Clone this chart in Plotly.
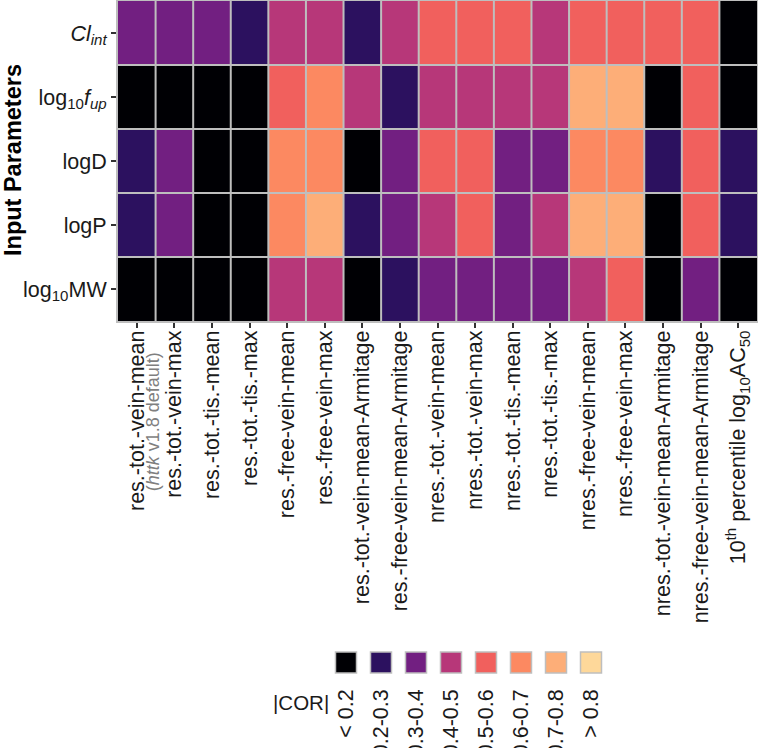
import plotly.graph_objects as go

# rows (top to bottom) and columns of the correlation grid
params = [
    "<i>Cl</i><sub><i>int</i></sub>",
    "log<sub>10</sub><i>f</i><sub><i>up</i></sub>",
    "logD",
    "logP",
    "log<sub>10</sub>MW",
]
metrics = [
    "res.-tot.-vein-mean",
    "res.-tot.-vein-max",
    "res.-tot.-tis.-mean",
    "res.-tot.-tis.-max",
    "res.-free-vein-mean",
    "res.-free-vein-max",
    "res.-tot.-vein-mean-Armitage",
    "res.-free-vein-mean-Armitage",
    "nres.-tot.-vein-mean",
    "nres.-tot.-vein-max",
    "nres.-tot.-tis.-mean",
    "nres.-tot.-tis.-max",
    "nres.-free-vein-mean",
    "nres.-free-vein-max",
    "nres.-tot.-vein-mean-Armitage",
    "nres.-free-vein-mean-Armitage",
    "10<sup>th</sup> percentile log<sub>10</sub>AC<sub>50</sub>",
]

# |COR| bins
bins = ["&lt; 0.2", "0.2-0.3", "0.3-0.4", "0.4-0.5", "0.5-0.6", "0.6-0.7", "0.7-0.8", "&gt; 0.8"]
bin_colors = ["#000004", "#2c115f", "#721f81", "#b73779", "#f1605d", "#fc8961", "#fdae78", "#fed89a"]

# bin index of |COR| for each parameter across the metrics
cl_int = [2, 2, 2, 1, 3, 3, 1, 3, 4, 4, 4, 3, 4, 4, 4, 4, 0]
log_fup = [0, 0, 0, 0, 4, 5, 3, 1, 3, 3, 3, 3, 6, 6, 0, 4, 0]
log_d = [1, 2, 0, 0, 5, 5, 0, 2, 4, 4, 2, 2, 5, 5, 1, 4, 1]
log_p = [1, 2, 0, 0, 5, 6, 1, 2, 3, 4, 2, 3, 6, 6, 0, 4, 1]
log_mw = [0, 0, 0, 0, 3, 3, 0, 1, 2, 2, 2, 2, 3, 4, 0, 2, 0]

z = [cl_int, log_fup, log_d, log_p, log_mw]

n = len(bin_colors)
cscale = []
for i, c in enumerate(bin_colors):
    cscale.append([i / n, c])
    cscale.append([(i + 1) / n, c])

W, H = 758, 748
ml, mr, mt, mb = 118, 1, 1, 8
pw, ph = W - ml - mr, H - mt - mb


def py(pix):
    # pixel row -> paper y
    return (H - mb - pix) / ph


def px(pix):
    return (pix - ml) / pw


grid = "#bebebe"
font = "Liberation Sans, Arial, sans-serif"
fs = 21.5

fig = go.Figure()
fig.add_trace(go.Heatmap(
    z=z, x=list(range(len(metrics))), y=list(range(len(params))),
    colorscale=cscale, zmin=-0.5, zmax=n - 0.5, showscale=False,
    hoverinfo="skip",
))

# cell borders
for i in range(1, len(metrics)):
    fig.add_shape(type="line", xref="x", yref="y", x0=i - 0.5, x1=i - 0.5,
                  y0=-0.5, y1=len(params) - 0.5, line=dict(color=grid, width=2))
for j in range(1, len(params)):
    fig.add_shape(type="line", xref="x", yref="y", x0=-0.5, x1=len(metrics) - 0.5,
                  y0=j - 0.5, y1=j - 0.5, line=dict(color=grid, width=2))

# legend swatches drawn on their own axes
fig.add_trace(go.Scatter(
    x=list(range(n)), y=[0] * n, mode="markers",
    marker=dict(symbol="square", size=21, color=bin_colors,
                line=dict(color=grid, width=1.5)),
    xaxis="x2", yaxis="y2", showlegend=False, hoverinfo="skip",
))

fig.update_layout(
    width=W, height=H,
    margin=dict(l=ml, r=mr, t=mt, b=mb),
    paper_bgcolor="white", plot_bgcolor="white",
    font=dict(family=font, size=fs, color="#1a1a1a"),
    showlegend=False,
    xaxis=dict(
        domain=[0, 1], anchor="y", range=[-0.5, len(metrics) - 0.5],
        tickvals=list(range(len(metrics))), ticktext=metrics, tickangle=-90,
        ticks="outside", ticklen=5, tickwidth=1.5, tickcolor="#333333",
        ticklabelstandoff=-6,
        showgrid=False, zeroline=False, showline=True, mirror=True,
        linecolor=grid, linewidth=2, automargin=False,
        tickfont=dict(size=fs, color="#1a1a1a"),
    ),
    yaxis=dict(
        domain=[py(321), 1], anchor="x", range=[len(params) - 0.5, -0.5],
        tickvals=list(range(len(params))), ticktext=params,
        ticks="outside", ticklen=5, tickwidth=1.5, tickcolor="#333333",
        showgrid=False, zeroline=False, showline=True, mirror=True,
        linecolor=grid, linewidth=2, automargin=False,
        tickfont=dict(size=fs, color="#1a1a1a"),
    ),
    xaxis2=dict(
        domain=[px(346 - 17.5), px(346 + 17.5 + 35 * (n - 1))], anchor="y2",
        range=[-0.5, n - 0.5], tickvals=list(range(n)), ticktext=bins,
        tickangle=-90, ticks="", ticklabelstandoff=10, automargin=False,
        showgrid=False, zeroline=False, showline=False,
        tickfont=dict(size=fs, color="#1a1a1a"),
    ),
    yaxis2=dict(
        domain=[py(674), py(651)], anchor="x2", range=[-0.5, 0.5],
        visible=False,
    ),
)

fig.add_annotation(
    text="<b>Input Parameters</b>", textangle=-90,
    xref="paper", yref="paper", x=px(13), y=py(160),
    xanchor="center", yanchor="middle", showarrow=False,
    font=dict(size=23.5, color="#000000"),
)
fig.add_annotation(
    text="(<i>httk</i> v1.8 default)", textangle=-90,
    xref="x", yref="paper", x=0, y=py(350), xshift=16,
    xanchor="center", yanchor="top", showarrow=False,
    font=dict(size=18, color="#7f7f7f"),
)
fig.add_annotation(
    text="|COR|", xref="paper", yref="paper", x=px(271), y=py(702),
    xanchor="left", yanchor="middle", showarrow=False,
    font=dict(size=20.5, color="#1a1a1a"),
)

# page body has a default 8px margin; drop it so the figure sits at the corner
fig.write_html("out.html", config={"displayModeBar": False},
               post_script="document.body.style.margin='0';")
